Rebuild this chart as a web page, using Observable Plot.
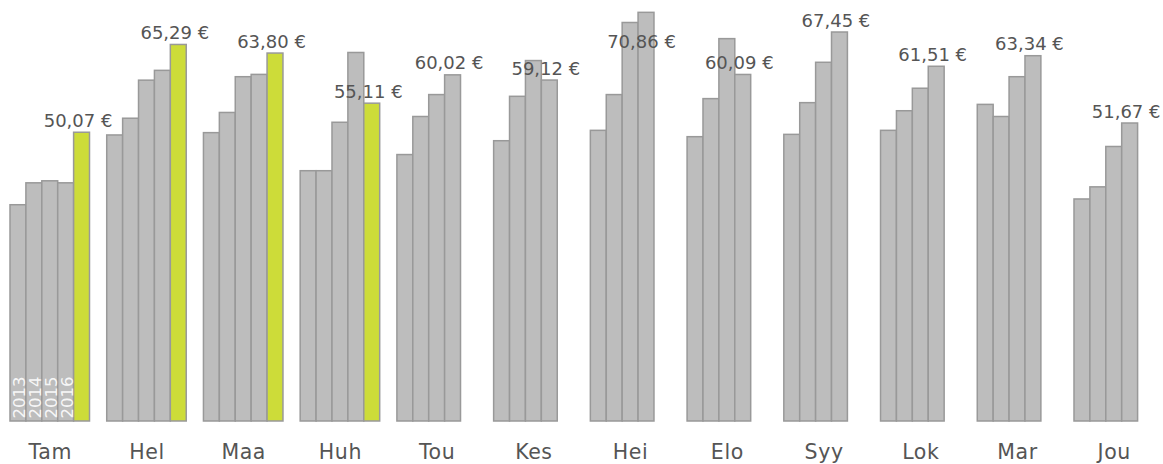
<!DOCTYPE html>
<html>
<head>
<meta charset="utf-8">
<script src="https://cdn.jsdelivr.net/npm/d3@7"></script>
<script src="https://cdn.jsdelivr.net/npm/@observablehq/plot@0.6"></script>
<style>
  html, body { margin: 0; padding: 0; background: #fff; }
  svg { display: block; }
  .month-axis text { letter-spacing: 0.6px; }
</style>
</head>
<body>
<div id="chart"></div>
<script>
const months = ["Tam","Hel","Maa","Huh","Tou","Kes","Hei","Elo","Syy","Lok","Mar","Jou"];
const years = [2013, 2014, 2015, 2016, 2017];
const v2013 = [37.5, 49.6, 50.0, 43.4, 46.2, 48.6, 50.4, 49.3, 49.7, 50.4, 54.9, 38.5];
const v2014 = [41.3, 52.5, 53.5, 43.4, 52.8, 56.3, 56.6, 55.9, 55.2, 53.8, 52.8, 40.6];
const v2015 = [41.65, 59.1, 59.7, 51.8, 56.6, 62.5, 69.1, 66.3, 62.2, 57.7, 59.7, 47.6];
const v2016 = [41.3, 60.8, 60.1, 63.9, 60.02, 59.12, 70.86, 60.09, 67.45, 61.51, 63.34, 51.67];
const v2017 = [50.07, 65.29, 63.80, 55.11, null, null, null, null, null, null, null, null];
const currentYear = 2017;
const yearLabelMonth = "Tam";
const labelTopLimit = 70; // labels for values above this are drawn inside the bar area

const series = [v2013, v2014, v2015, v2016, v2017];
const data = [];
months.forEach((m, i) => {
  years.forEach((y, j) => {
    const v = series[j][i];
    if (v != null) data.push({month: m, year: y, value: v});
  });
});
const latest = months.map(m => {
  const rows = data.filter(d => d.month === m);
  return rows[rows.length - 1];
});
const yearLabels = data.filter(d => d.month === yearLabelMonth && d.year < currentYear);
const fmt = v => v.toFixed(2).replace(".", ",") + " €";

const gray = "#bdbdbd", green = "#cddc39", edge = "#999999";

const chart = Plot.plot({
  width: 1163,
  height: 464,
  marginLeft: 10,
  marginRight: 9.5,
  marginTop: 0,
  marginBottom: 43,
  style: {fontFamily: "'DejaVu Sans', sans-serif", background: "#fff"},
  fx: {domain: months, paddingInner: 0.178, paddingOuter: 0, round: false, label: null},
  x: {domain: years, padding: 0, round: false, axis: null},
  y: {domain: [0, 73], axis: null},
  marks: [
    Plot.barY(data, {
      fx: "month", x: "year", y: "value",
      fill: d => d.year === currentYear ? green : gray,
      stroke: edge, strokeWidth: 1.5, inset: 0
    }),
    Plot.text(yearLabels, {
      fx: "month", x: "year", y: 0,
      text: d => String(d.year),
      rotate: -90, textAnchor: "start", lineAnchor: "middle",
      dx: 1.5, dy: -3, fill: "#fff", fillOpacity: 0.9, fontSize: 16.5
    }),
    Plot.text(latest.filter(d => d.value <= labelTopLimit), {
      fx: "month", x: "year", y: "value",
      text: d => fmt(d.value),
      lineAnchor: "bottom", dy: -6, dx: -4,
      fill: "#555", fontSize: 18
    }),
    Plot.text(latest.filter(d => d.value > labelTopLimit), {
      fx: "month", x: "year", y: "value",
      text: d => fmt(d.value),
      lineAnchor: "bottom", dy: 35, dx: -5,
      fill: "#555", fontSize: 18
    }),
    Plot.axisFx({
      anchor: "bottom", tickSize: 0, tickPadding: 23,
      fontSize: 20.5, fill: "#555", label: null, className: "month-axis"
    })
  ]
});
document.getElementById("chart").appendChild(chart);
</script>
</body>
</html>
